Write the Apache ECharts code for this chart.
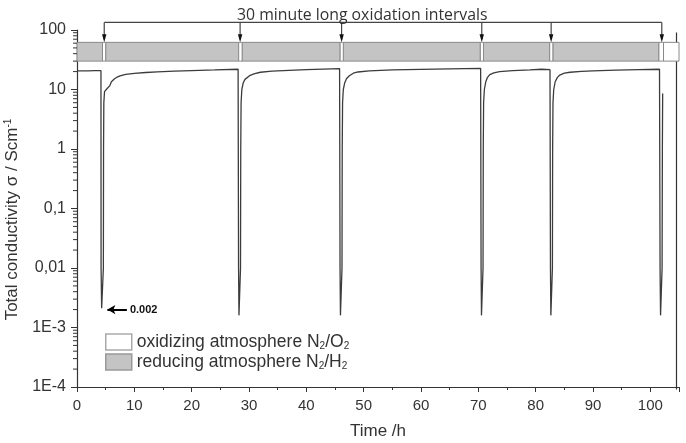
<!DOCTYPE html>
<html>
<head>
<meta charset="utf-8">
<script src="https://cdn.jsdelivr.net/npm/echarts@6/dist/echarts.min.js"></script>
<style>
  html, body { margin: 0; padding: 0; background: #fff; }
  #chart { width: 686px; height: 443px; }
</style>
</head>
<body>
<div id="chart"></div>
<script>
// conductivity trace (time in h, sigma in S/cm)
const timeH = [
    0, 1, 2, 3, 4.18, 4.2, 4.3, 4.4, 4.5, 4.6, 4.63, 4.68, 4.8, 5.0, 5.3, 5.7, 6.0, 6.5, 7.0, 7.5, 8.5, 10, 12, 14, 17, 20, 24, 28.1,
    28.15, 28.18, 28.25, 28.35, 28.45, 28.52, 28.56, 28.62, 28.75, 29, 29.3, 29.6, 30.2, 31, 32, 34, 37, 40, 43, 45.8,
    45.85, 45.88, 45.95, 46.05, 46.15, 46.22, 46.26, 46.32, 46.45, 46.7, 47, 47.5, 48.2, 49, 51, 55, 60, 65, 70.4,
    70.45, 70.48, 70.55, 70.65, 70.75, 70.82, 70.86, 70.92, 71.05, 71.3, 71.6, 72, 72.7, 73.7, 76, 79, 81, 82.5,
    82.55, 82.58, 82.65, 82.75, 82.85, 82.92, 82.96, 83.02, 83.15, 83.4, 83.8, 84.2, 85, 86, 88, 90, 94, 98, 101.6,
    101.68, 101.7, 101.78, 101.88, 101.98, 102.05, 102.1, 102.15
];
const sigma = [
    20.5, 20.6, 20.6, 20.7, 20.7, 0.01, 0.0021, 0.002, 0.0021, 0.01, 1, 6, 9.2, 9.8, 10.5, 11.5, 13.5, 15, 16.2, 17, 18, 18.7, 19.3, 19.8, 20.3, 20.8, 21.3, 21.9,
    22, 0.01, 0.0016, 0.0015, 0.0016, 0.01, 1, 6, 10, 13, 14.8, 15.8, 17.3, 18.5, 19.5, 20.3, 21, 21.5, 22, 22.5,
    22.5, 0.01, 0.0016, 0.0015, 0.0016, 0.01, 1, 6, 10, 13, 15.2, 17, 18.8, 19.7, 20.5, 21.3, 21.8, 22.2, 22.6,
    22.6, 0.01, 0.0016, 0.0015, 0.0016, 0.01, 1, 6, 10, 13.5, 16, 17.8, 19, 20, 20.8, 21.4, 21.9, 21.5,
    21.5, 0.01, 0.0016, 0.0015, 0.0016, 0.01, 1, 6, 10, 13.5, 16, 17.5, 18.8, 19.5, 20.1, 20.5, 21.1, 21.6, 21.9,
    21.9, 0.01, 0.0016, 0.0015, 0.0016, 0.01, 1, 8.6
];

// atmosphere strip (start h, end h)
const reducing = [[0, 4.45], [5.0, 28.2], [28.8, 45.9], [46.45, 70.35], [70.9, 82.45], [83.0, 101.5]];
const oxidizing = [[4.45, 5.0], [28.2, 28.8], [45.9, 46.45], [70.35, 70.9], [82.45, 83.0], [101.5, 102.3], [102.3, 105]];
const oxidationStarts = [4.75, 28.45, 46.15, 70.6, 82.7, 102.0];

const bandTop = 62, bandBottom = 30, bracketLevel = 134;

const xTicks = [0, 10, 20, 30, 40, 50, 60, 70, 80, 90, 100];
const yTickLabels = { '0.0001': '1E-4', '0.001': '1E-3', '0.01': '0,01', '0.1': '0,1', '1': '1', '10': '10', '100': '100' };

// log minor ticks 2..9 per decade
const yMinor = [];
for (let e = -4; e < 2; e++) {
    for (let k = 2; k <= 9; k++) yMinor.push(k * Math.pow(10, e));
}

const FONT = 'Liberation Sans, Arial, sans-serif';
const chart = echarts.init(document.getElementById('chart'));

function bandItem(fill, stroke) {
    return function (params, api) {
        const p1 = api.coord([api.value(0), bandTop]);
        const p2 = api.coord([api.value(1), bandBottom]);
        return {
            type: 'rect',
            shape: { x: p1[0], y: p1[1], width: p2[0] - p1[0], height: p2[1] - p1[1] },
            style: { fill: fill, stroke: stroke, lineWidth: 1 }
        };
    };
}

chart.setOption({
    animation: false,
    backgroundColor: '#fff',
    title: {
        text: '30 minute long oxidation intervals',
        left: 232, top: 2,
        textStyle: { fontFamily: 'Open Sans, sans-serif', fontSize: 15.8, fontWeight: 'normal', color: '#333' }
    },
    grid: { left: 77, right: 7, top: 30, bottom: 56, outerBoundsMode: 'none', containLabel: false },
    legend: {
        orient: 'vertical',
        left: 100, top: 328,
        itemWidth: 26, itemHeight: 16, itemGap: 2,
        selectedMode: false,
        data: [
            { name: 'ox', icon: 'rect', itemStyle: { color: '#fff', borderColor: '#aaa', borderWidth: 1.5 } },
            { name: 'red', icon: 'rect', itemStyle: { color: '#c4c4c4', borderColor: '#999', borderWidth: 1.5 } }
        ],
        formatter: n => n === 'ox'
            ? 'oxidizing atmosphere N{s|2}/O{s|2}'
            : 'reducing atmosphere N{s|2}/H{s|2}',
        textStyle: {
            fontFamily: FONT, fontSize: 17.5, color: '#333', lineHeight: 18,
            rich: { s: { fontFamily: FONT, fontSize: 10, color: '#333', verticalAlign: 'bottom', lineHeight: 10, padding: [8, 0, 0, 0] } }
        }
    },
    xAxis: {
        type: 'value', min: 0, max: 105, interval: 10,
        name: 'Time /h', nameLocation: 'middle', nameGap: 36,
        nameTextStyle: { fontFamily: FONT, fontSize: 17, color: '#333' },
        axisLine: { lineStyle: { color: '#333', width: 1.2 } },
        axisTick: { length: 5, lineStyle: { color: '#333' } },
        minorTick: { show: true, splitNumber: 2, length: 3, lineStyle: { color: '#333' } },
        axisLabel: {
            fontFamily: FONT, fontSize: 15, color: '#333', margin: 11,
            formatter: v => xTicks.includes(v) ? String(v) : ''
        },
        splitLine: { show: false }
    },
    yAxis: {
        type: 'log', logBase: 10, min: 0.0001, max: 100,
        name: 'Total conductivity σ / Scm{p|-1}', nameLocation: 'middle', nameGap: 38,
        nameTextStyle: {
            fontFamily: FONT, fontSize: 17, color: '#333', padding: [0, 22, 0, 0],
            rich: { p: { fontFamily: FONT, fontSize: 10, color: '#333', verticalAlign: 'top', padding: [0, 0, 10, 0] } }
        },
        axisLine: { show: true, lineStyle: { color: '#333', width: 1.2 } },
        axisTick: { length: 6, lineStyle: { color: '#333' } },
        axisLabel: {
            fontFamily: FONT, fontSize: 16, color: '#333', margin: 11,
            formatter: v => yTickLabels[String(+v.toPrecision(3))] || ''
        },
        splitLine: { show: false }
    },
    series: [
        {
            name: 'red', type: 'custom', renderItem: bandItem('#c4c4c4', '#8a8a8a'),
            itemStyle: { color: '#c4c4c4' },
            data: reducing, encode: { x: [0, 1] }, clip: false, silent: true, z: 1
        },
        {
            name: 'ox', type: 'custom', renderItem: bandItem('#fff', '#8a8a8a'),
            itemStyle: { color: '#fff' },
            data: oxidizing, encode: { x: [0, 1] }, clip: false, silent: true, z: 1
        },
        {
            // bracket line joining the arrows
            type: 'custom', clip: false, silent: true, z: 3,
            data: [[oxidationStarts[0], oxidationStarts[oxidationStarts.length - 1]]],
            encode: { x: [0, 1] },
            renderItem: (params, api) => {
                const a = api.coord([api.value(0), bracketLevel]);
                const b = api.coord([api.value(1), bracketLevel]);
                return { type: 'line', shape: { x1: a[0], y1: a[1], x2: b[0], y2: b[1] }, style: { stroke: '#444', lineWidth: 1.2 } };
            }
        },
        {
            // arrows down to each oxidation interval
            type: 'custom', clip: false, silent: true, z: 3,
            data: oxidationStarts.map(t => [t]),
            encode: { x: 0 },
            renderItem: (params, api) => {
                const top = api.coord([api.value(0), bracketLevel]);
                const tip = api.coord([api.value(0), bandTop]);
                return {
                    type: 'group',
                    children: [
                        { type: 'line', shape: { x1: top[0], y1: top[1], x2: tip[0], y2: tip[1] - 3 }, style: { stroke: '#444', lineWidth: 1.2 } },
                        { type: 'polygon', shape: { points: [[tip[0] - 2.2, tip[1] - 8], [tip[0] + 2.2, tip[1] - 8], [tip[0], tip[1]]] }, style: { fill: '#111' } }
                    ]
                };
            }
        },
        {
            // log minor ticks on the left axis
            type: 'custom', clip: false, silent: true, z: 3,
            data: yMinor.map(v => [0, v]),
            encode: { x: 0, y: 1 },
            renderItem: (params, api) => {
                const p = api.coord([0, api.value(1)]);
                return { type: 'line', shape: { x1: p[0] - 4, y1: p[1], x2: p[0], y2: p[1] }, style: { stroke: '#333', lineWidth: 1 } };
            }
        },
        {
            type: 'line', symbol: 'none', z: 4,
            data: timeH.map((t, i) => [t, sigma[i]]),
            lineStyle: { color: '#3c3c3c', width: 1.3 },
            markLine: {
                silent: true, symbolSize: [7, 8],
                lineStyle: { color: '#000', width: 2, type: 'solid' },
                label: { show: true, position: 'end', formatter: '0.002', fontFamily: FONT, fontSize: 11, fontWeight: 'bold', color: '#111', distance: 3 },
                data: [[
                    { coord: [5.3, 0.002], symbol: 'arrow', symbolRotate: 90 },
                    { coord: [8.7, 0.002], symbol: 'none' }
                ]]
            }
        }
    ],
    graphic: [{
        // right frame line
        type: 'line', right: 7, top: 30,
        shape: { x1: 0, y1: 0, x2: 0, y2: 357 },
        style: { stroke: '#333', lineWidth: 1.2 }
    }]
});
</script>
</body>
</html>
